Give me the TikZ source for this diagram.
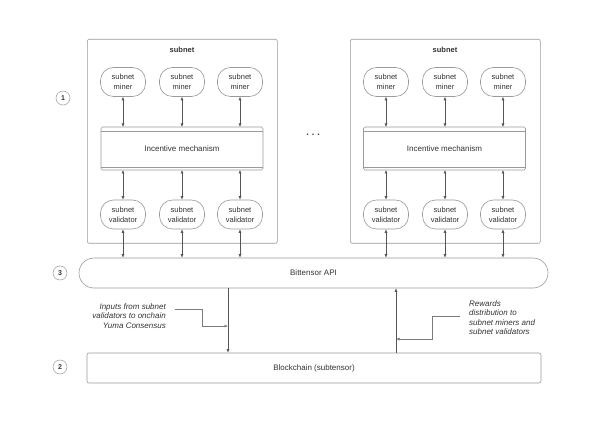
\documentclass[tikz,border=0pt]{standalone}
\usepackage{fontspec}
\setmainfont{Liberation Sans}
\usetikzlibrary{arrows.meta,calc}
\definecolor{boxline}{HTML}{9A9A9A}
\definecolor{arrline}{HTML}{555555}
\definecolor{txt}{HTML}{333333}
\tikzset{
  frame/.style={draw=boxline, line width=0.6pt, rounded corners=2pt},
  agent/.style={draw=boxline, line width=0.6pt, rounded corners=13pt, minimum width=45pt, minimum height=29pt, inner sep=0pt, align=center, font=\fontsize{7.5}{10}\selectfont, text=txt},
  mech/.style={draw=boxline, line width=0.6pt, rounded corners=1.5pt, minimum width=162pt, minimum height=43pt, inner sep=0pt, outer sep=0pt, font=\fontsize{8}{10}\selectfont, text=txt},
  bidir/.style={draw=arrline, line width=0.6pt, {Latex[length=3.5pt,width=3pt]}-{Latex[length=3.5pt,width=3pt]}},
  onedir/.style={draw=arrline, line width=0.6pt, -{Latex[length=3.5pt,width=3pt]}},
  num/.style={draw=boxline, line width=0.5pt, circle, minimum size=14pt, inner sep=0pt, font=\fontsize{7}{8}\selectfont\bfseries, text=txt},
  note/.style={font=\fontsize{8}{9.5}\selectfont\itshape, text=txt, inner sep=0pt},
  inner line/.style={draw=boxline, line width=0.6pt},
}
\begin{document}
\begin{tikzpicture}[x=1pt,y=-1pt]
\useasboundingbox (0,0) rectangle (600,422);
\fill[white] (0,0) rectangle (600,422);

% subnet frames
\node[frame, minimum width=190pt, minimum height=204pt, anchor=north west, inner sep=0pt] (sn1) at (87,39) {};
\node[frame, minimum width=190pt, minimum height=204pt, anchor=north west, inner sep=0pt] (sn2) at (350,39) {};
\node[font=\fontsize{7.5}{9}\selectfont\bfseries, text=txt] (t1) at (182,50) {subnet};
\node[font=\fontsize{7.5}{9}\selectfont\bfseries, text=txt] (t2) at (445,50) {subnet};

% miners
\node[agent] (m1) at (123,82) {subnet\\miner};
\node[agent] (m2) at (182,82) {subnet\\miner};
\node[agent] (m3) at (240,82) {subnet\\miner};
\node[agent] (m4) at (386,82) {subnet\\miner};
\node[agent] (m5) at (445,82) {subnet\\miner};
\node[agent] (m6) at (503,82) {subnet\\miner};

% mechanisms
\node[mech] (im1) at (182,148.5) {Incentive mechanism};
\node[mech] (im2) at (444.5,148.5) {Incentive mechanism};
\draw[inner line] ([yshift=-4pt]im1.north west) -- ([yshift=-4pt]im1.north east);
\draw[inner line] ([yshift=3pt]im1.south west) -- ([yshift=3pt]im1.south east);
\draw[inner line] ([yshift=-4pt]im2.north west) -- ([yshift=-4pt]im2.north east);
\draw[inner line] ([yshift=3pt]im2.south west) -- ([yshift=3pt]im2.south east);

% validators
\node[agent] (v1) at (123,214.5) {subnet\\validator};
\node[agent] (v2) at (182,214.5) {subnet\\validator};
\node[agent] (v3) at (240,214.5) {subnet\\validator};
\node[agent] (v4) at (386,214.5) {subnet\\validator};
\node[agent] (v5) at (445,214.5) {subnet\\validator};
\node[agent] (v6) at (503,214.5) {subnet\\validator};

% dots
\node[font=\fontsize{9}{9}\selectfont\bfseries, text=txt] (dots) at (313,135) {.\hspace{3pt}.\hspace{3pt}.};

% API and blockchain
\node[draw=boxline, line width=0.6pt, rounded corners=15pt, minimum width=469pt, minimum height=30pt, inner sep=0pt, font=\fontsize{8}{10}\selectfont, text=txt] (api) at (313.5,273) {Bittensor API};
\node[frame, minimum width=454pt, minimum height=30pt, inner sep=0pt, font=\fontsize{8}{10}\selectfont, text=txt] (bc) at (314,368) {Blockchain (subtensor)};

% number circles
\node[num] (n1) at (63,98) {1};
\node[num] (n3) at (60,273) {3};
\node[num] (n2) at (60,367) {2};

% arrows miners <-> mechanism <-> validators
\foreach \i/\k in {1/1,2/1,3/1,4/2,5/2,6/2}{
  \draw[bidir] (m\i.south) -- (m\i.south |- im\k.north);
  \draw[bidir] (im\k.south -| v\i.north) -- (v\i.north);
  \draw[bidir] (v\i.south) -- (v\i.south |- api.north);
}

% API <-> blockchain
\coordinate (dn) at (228,0);
\coordinate (up) at (396,0);
\draw[onedir] (dn |- api.south) -- (dn |- bc.north);
\draw[onedir] (up |- bc.north) -- (up |- api.south);

% notes
\node[note, anchor=east, align=right] (in) at (166,316) {Inputs from subnet\\validators to onchain\\Yuma Consensus};
\node[note, anchor=west, align=left] (rw) at (469,317.5) {Rewards\\distribution to\\subnet miners and\\subnet validators};
\coordinate (inA) at (175,309);
\coordinate (inB) at (228,326);
\draw[onedir, draw=boxline!80!black] (inA) -| (202,326) -- (inB);
\coordinate (rwA) at (460,316);
\coordinate (rwB) at (396,339);
\draw[onedir, draw=boxline!80!black] (rwA) -| (432,339) -- (rwB);
\end{tikzpicture}
\end{document}
